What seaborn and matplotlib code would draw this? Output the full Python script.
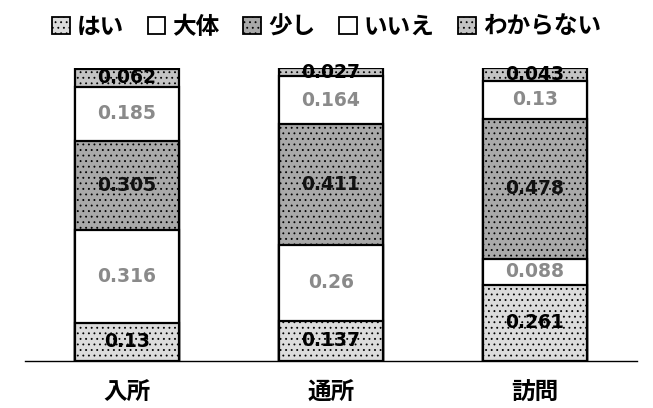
import matplotlib
matplotlib.use("Agg")
import matplotlib.pyplot as plt
import matplotlib.patches as mpatches
import seaborn as sns
import numpy as np
import pandas as pd

categories = ["入所", "通所", "訪問"]
series_names = ["はい", "大体", "少し", "いいえ", "わからない"]
hai = [0.13, 0.137, 0.261]
daitai = [0.316, 0.26, 0.088]
sukoshi = [0.305, 0.411, 0.478]
iie = [0.185, 0.164, 0.13]
wakaranai = [0.062, 0.027, 0.043]

series_values = [hai, daitai, sukoshi, iie, wakaranai]
face_colors = ["#dcdcdc", "#ffffff", "#a9a9a9", "#ffffff", "#c4c4c4"]
hatches = ["...", "", "...", "", "..."]
label_colors = ["#000000", "#8a8a8a", "#111111", "#8a8a8a", "#000000"]

sns.set_theme(style="white")
plt.rcParams["font.family"] = ["Noto Sans CJK JP", "DejaVu Sans"]
plt.rcParams["hatch.color"] = "#8c8c8c"
plt.rcParams["hatch.linewidth"] = 0.6

fig = plt.figure(figsize=(6.53, 4.08), dpi=100)
ax = fig.add_axes([25 / 653, 47 / 408, 612 / 653, 293 / 408])

vals = np.array(series_values)
cum = np.cumsum(vals, axis=0)

# draw from the top layer down so lower layers cover upper ones
for i in range(len(series_names) - 1, -1, -1):
    df = pd.DataFrame({"cat": categories, "val": cum[i]})
    n_before = len(ax.patches)
    sns.barplot(data=df, x="cat", y="val", color=face_colors[i], width=0.51,
                edgecolor="black", linewidth=1.6, ax=ax, saturation=1,
                order=categories)
    for p in ax.patches[n_before:]:
        p.set_facecolor(face_colors[i])
        if hatches[i]:
            p.set_hatch(hatches[i])

# value labels
for i in range(len(series_names)):
    for j in range(len(categories)):
        v = vals[i, j]
        center = cum[i, j] - v / 2
        ax.text(j, center, f"{v:g}", ha="center", va="center",
                fontsize=13.5, fontweight="bold", color=label_colors[i],
                family=["DejaVu Sans"])

ax.set_xlim(-0.5, 2.5)
ax.set_ylim(0, 1.0)
ax.set_xlabel("")
ax.set_ylabel("")
ax.set_yticks([])
for s in ["top", "right", "left"]:
    ax.spines[s].set_visible(False)
ax.spines["bottom"].set_color("black")
ax.spines["bottom"].set_linewidth(1.0)
ax.tick_params(axis="x", length=0, pad=14)
for lbl in ax.get_xticklabels():
    lbl.set_fontsize(17)
    lbl.set_fontweight("bold")
    lbl.set_color("black")

handles = [mpatches.Patch(facecolor=face_colors[i], edgecolor="black",
                          hatch=hatches[i], linewidth=1.3, label=series_names[i])
           for i in range(len(series_names))]
leg = fig.legend(handles=handles, loc="center", bbox_to_anchor=(0.5, 1 - 27 / 408),
                 ncol=5, frameon=False, handlelength=0.75, handleheight=0.75,
                 handletextpad=0.3, columnspacing=1.0, labelcolor="black",
                 prop={"size": 17, "weight": "bold",
                       "family": ["Noto Sans CJK JP", "DejaVu Sans"]})

fig.savefig("out.png", dpi=100, facecolor="white")
